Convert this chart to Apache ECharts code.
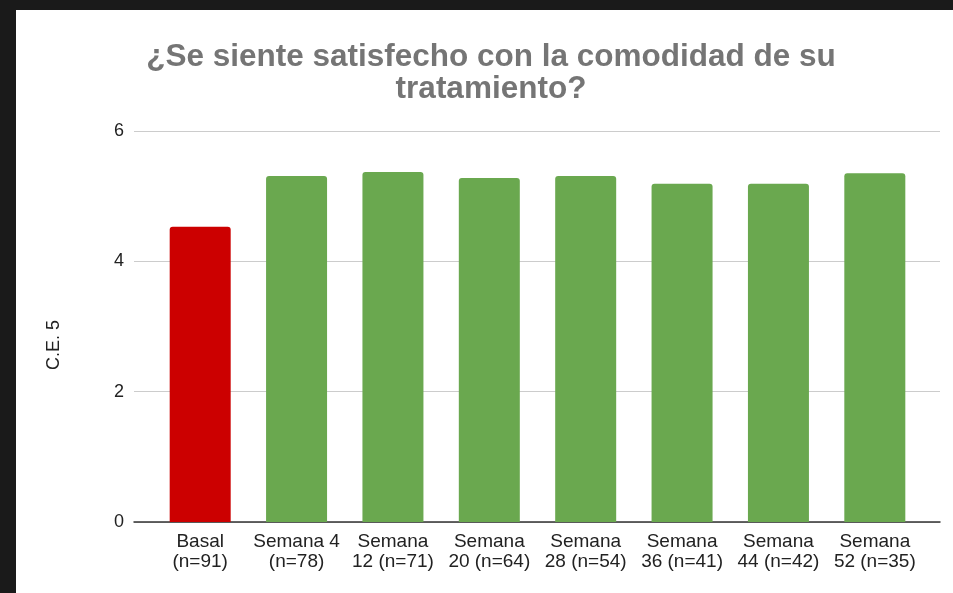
<!DOCTYPE html>
<html>
<head>
<meta charset="utf-8">
<script src="https://cdn.jsdelivr.net/npm/echarts@6/dist/echarts.min.js"></script>
<style>
html,body{margin:0;padding:0;width:953px;height:593px;background:#1a1a1a;overflow:hidden;}
#c{position:absolute;left:16px;top:10px;width:937px;height:583px;background:#fff;}
</style>
</head>
<body>
<div id="c"></div>
<script>
const categories = ["Basal\n(n=91)", "Semana 4\n(n=78)", "Semana\n12 (n=71)", "Semana\n20 (n=64)", "Semana\n28 (n=54)", "Semana\n36 (n=41)", "Semana\n44 (n=42)", "Semana\n52 (n=35)"];
const values = [4.53, 5.31, 5.37, 5.28, 5.31, 5.19, 5.19, 5.35];
const barColors = ["#cc0000", "#6aa84f", "#6aa84f", "#6aa84f", "#6aa84f", "#6aa84f", "#6aa84f", "#6aa84f"];
const yTicks = [0, 2, 4, 6];
const titleText = "¿Se siente satisfecho con la comodidad de su\ntratamiento?";
const yName = "C.E. 5";

const font = "'Liberation Sans', Arial, sans-serif";
const chart = echarts.init(document.getElementById('c'));
chart.setOption({
  animation: false,
  textStyle: {fontFamily: font},
  title: {
    text: titleText,
    left: 470,
    textAlign: 'center',
    top: 26,
    textStyle: {fontFamily: font, fontSize: 31.5, fontWeight: 'bold', color: '#757575', lineHeight: 32}
  },
  graphic: [{
    type: 'text',
    x: 38, y: 335,
    rotation: Math.PI / 2,
    style: {text: yName, fontFamily: font, fontSize: 18, fill: '#222', align: 'center', verticalAlign: 'middle'}
  }],
  grid: [
    {left: 118, right: 13, top: 121, bottom: 71},
    {left: 136, right: 30, top: 121, bottom: 71}
  ],
  xAxis: [
    {type: 'category', gridIndex: 0, data: categories, axisLabel: {show: false}, axisTick: {show: false},
     axisLine: {show: true, lineStyle: {color: '#333', width: 1.5}}, splitLine: {show: false}},
    {type: 'category', gridIndex: 1, data: categories, axisTick: {show: false}, axisLine: {show: false},
     axisLabel: {show: true, interval: 0, fontFamily: font, fontSize: 19, color: '#222', lineHeight: 20, margin: 10}}
  ],
  yAxis: [
    {type: 'value', gridIndex: 0, min: yTicks[0], max: yTicks[yTicks.length - 1], interval: 2,
     axisLine: {show: false}, axisTick: {show: false},
     axisLabel: {fontFamily: font, fontSize: 18, color: '#222', margin: 10},
     splitLine: {show: true, lineStyle: {color: '#cccccc', width: 1}}},
    {type: 'value', gridIndex: 1, min: yTicks[0], max: yTicks[yTicks.length - 1], interval: 2, show: false}
  ],
  series: [{
    type: 'bar',
    xAxisIndex: 1, yAxisIndex: 1,
    barWidth: 61,
    data: values.map((v, i) => ({value: v, itemStyle: {color: barColors[i]}})),
    itemStyle: {borderRadius: [3, 3, 0, 0]},
    z: 1
  }]
});
</script>
</body>
</html>
